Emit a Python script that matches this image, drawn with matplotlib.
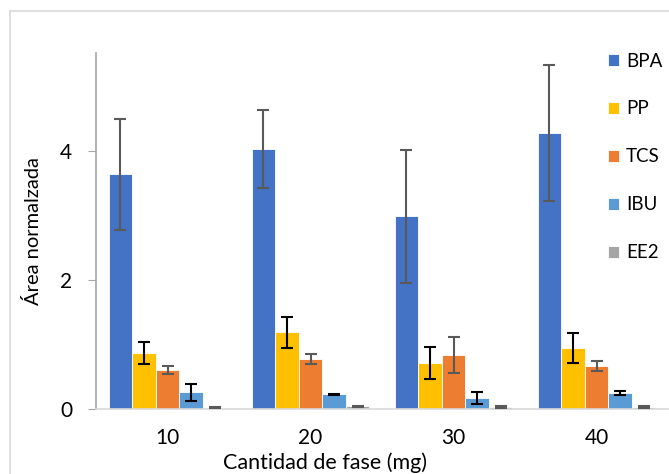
import numpy as np
import matplotlib; matplotlib.use("Agg")
import matplotlib.pyplot as plt
from matplotlib.lines import Line2D

plt.rcParams["font.family"] = ["Lato", "DejaVu Sans"]

cats = ["10", "20", "30", "40"]
series = ["BPA", "PP", "TCS", "IBU", "EE2"]
vals = {
    "BPA": [3.64, 4.03, 2.99, 4.28],
    "PP":  [0.87, 1.19, 0.71, 0.95],
    "TCS": [0.60, 0.78, 0.84, 0.67],
    "IBU": [0.26, 0.23, 0.17, 0.25],
    "EE2": [0.02, 0.04, 0.03, 0.03],
}
errs = {
    "BPA": [0.86, 0.60, 1.03, 1.05],
    "PP":  [0.17, 0.24, 0.25, 0.23],
    "TCS": [0.06, 0.08, 0.28, 0.08],
    "IBU": [0.13, 0.01, 0.09, 0.03],
    "EE2": [0.01, 0.01, 0.01, 0.01],
}
colors = {"BPA": "#4472C4", "PP": "#FFC000", "TCS": "#ED7D31", "IBU": "#5B9BD5", "EE2": "#A5A5A5"}
ecol = {"BPA": "#595959", "PP": "black", "TCS": "#595959", "IBU": "black", "EE2": "#595959"}

fig = plt.figure(figsize=(6.69, 4.74), dpi=100)
ax = fig.add_axes([96/669, 1-409/474, 572/669, (409-53)/474])

x = np.arange(len(cats))
w = 0.165
for i, s in enumerate(series):
    pos = x - 2*w + i*w
    ax.bar(pos, vals[s], w, color=colors[s], edgecolor="white", linewidth=0.6, label=s, zorder=2)
    ax.errorbar(pos, vals[s], yerr=errs[s], fmt="none", ecolor=ecol[s], elinewidth=1.5,
                capsize=4.5, capthick=1.5, zorder=3)

ax.set_xlim(-0.5, 3.5)
ax.set_ylim(0, 5.52)
ax.set_yticks([0, 2, 4])
ax.set_xticks(x)
ax.set_xticklabels(cats)
for sp in ["top", "right"]:
    ax.spines[sp].set_visible(False)
ax.spines["left"].set_color("#a6a6a6")
ax.spines["bottom"].set_color("#d9d9d9")
ax.spines["left"].set_linewidth(1.2)
ax.spines["bottom"].set_linewidth(1.2)
ax.tick_params(axis="y", length=6, color="#a6a6a6", labelsize=15, pad=11)
ax.tick_params(axis="x", length=0, labelsize=15, pad=14)
ax.set_ylabel("Área normalzada", fontsize=14.5, labelpad=13)
fig.text(325/669, 1-463/474, "Cantidad de fase (mg)", ha="center", va="center", fontsize=15.5)

ax.legend(loc="upper left", bbox_to_anchor=(600/669, 1-45/474), bbox_transform=fig.transFigure,
          frameon=False, fontsize=13.5, labelspacing=1.65, handlelength=0.6, handleheight=0.6,
          handletextpad=0.4, borderaxespad=0)

fig.add_artist(Line2D([10/669, 10/669], [0, 1-11/474], color="#d9d9d9", lw=1.2, transform=fig.transFigure))
fig.add_artist(Line2D([10/669, 1], [1-11/474, 1-11/474], color="#d9d9d9", lw=1.2, transform=fig.transFigure))

fig.savefig("out.png", dpi=100)
